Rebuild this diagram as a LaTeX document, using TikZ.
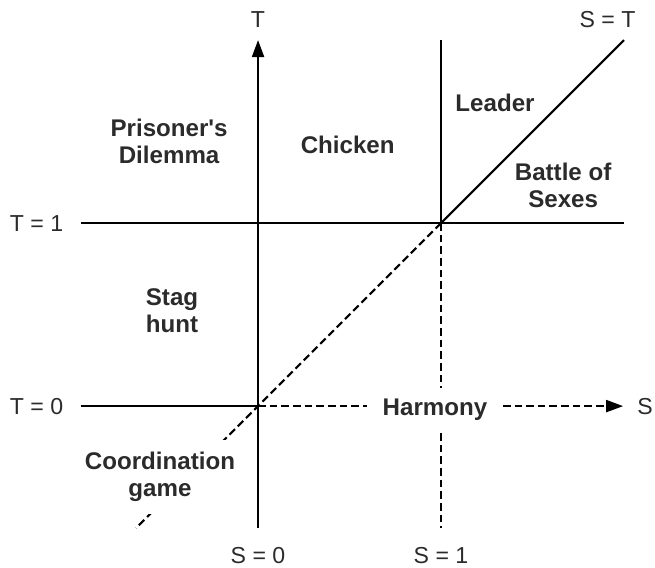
\documentclass[tikz,border=0pt]{standalone}
\usepackage{fontspec}
\setmainfont{Liberation Sans}
\usepackage{xcolor}
\usetikzlibrary{arrows.meta}
\definecolor{ink}{HTML}{2B2B2B}
\tikzset{
  axis/.style={line width=1.05pt,color=black},
  guide/.style={axis,dash pattern=on 3.8pt off 2pt},
  tip/.style={-{Triangle[length=8.5pt,width=6pt]}},
  game/.style={font=\bfseries\fontsize{12}{13.5}\selectfont,text=ink,align=center},
  tick/.style={font=\fontsize{11.5}{13.5}\selectfont,text=ink},
  gap/.style={game,fill=white,inner xsep=8pt,inner ysep=5.5pt},
}

\begin{document}
\begin{tikzpicture}[x=3.2cm,y=3.2cm]
    \useasboundingbox (-1.41,-0.88) rectangle (2.169,2.219);
    \coordinate (o) at (0,0);
    \coordinate (p) at (1,1);
    % solid lines
    \draw[axis,tip] (0,-0.667) -- (0,2);
    \draw[axis] (-0.97,1) -- (2,1);
    \draw[axis] (-0.97,0) -- (o);
    \draw[axis] (1,2) -- (p);
    \draw[axis] (p) -- (2,2);
    % dashed continuations
    \draw[guide,tip] (o) -- (1.995,0);
    \draw[guide] (p) -- (1,-0.667);
    \draw[guide] (p) -- (-0.667,-0.667);
    % axis labels
    \node[tick] (tlab) at (0,2.11) {T};
    \node[tick] (slab) at (2.115,0) {S};
    \node[tick] (diag) at (1.91,2.11) {S = T};
    \node[tick] (t1) at (-1.21,1) {T = 1};
    \node[tick] (t0) at (-1.21,0) {T = 0};
    \node[tick] (s0) at (0,-0.814) {S = 0};
    \node[tick] (s1) at (1,-0.814) {S = 1};
    % games
    \node[game] (pd) at (-0.486,1.448) {Prisoner\textquotesingle s\\Dilemma};
    \node[game] (chicken) at (0.49,1.426) {Chicken};
    \node[game] (leader) at (1.295,1.656) {Leader};
    \node[game] (bos) at (1.667,1.208) {Battle of\\Sexes};
    \node[game] (stag) at (-0.47,0.519) {Stag\\hunt};
    \node[gap] (harmony) at (0.967,-0.02) {Harmony};
    \node[gap,inner sep=6pt] (coord) at (-0.536,-0.388) {Coordination\\game};
\end{tikzpicture}
\end{document}
